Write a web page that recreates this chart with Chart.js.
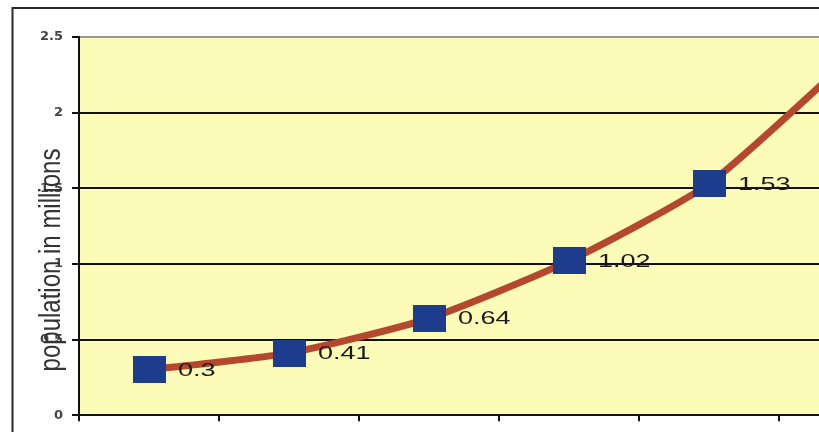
<!DOCTYPE html>
<html>
<head>
<meta charset="utf-8">
<script src="https://cdn.jsdelivr.net/npm/chart.js@4.4.1/dist/chart.umd.min.js"></script>
<style>
    html, body { margin: 0; padding: 0; background: #fff; overflow: hidden; }
    #wrap { position: absolute; left: 0; top: 0; width: 940px; height: 432px; }
</style>
</head>
<body>
<div id="wrap"><canvas id="chartPop" width="940" height="432"></canvas></div>
<script>
// data
const periods = ['1', '2', '3', '4', '5', '6'];
const population = [0.3, 0.41, 0.64, 1.02, 1.53, 2.35];
const yTicks = [0, 0.5, 1, 1.5, 2, 2.5];
const yTitle = 'population in millions';

// wide navy marker
const marker = document.createElement('canvas');
marker.width = 33; marker.height = 27;
const mctx = marker.getContext('2d');
mctx.fillStyle = '#1E3C8C';
mctx.fillRect(0, 0, 33, 27);

const framePlugin = {
    id: 'frame',
    beforeDraw(chart) {
        const { ctx, chartArea: a } = chart;
        ctx.save();
        ctx.fillStyle = '#FDFBB8';
        ctx.fillRect(a.left, a.top, a.right - a.left, a.bottom - a.top);
        ctx.strokeStyle = '#2a2a2a';
        ctx.lineWidth = 2;
        ctx.strokeRect(12.5, 8, 2000, 2000);
        ctx.restore();
    },
    afterDraw(chart) {
        const { ctx } = chart;
        const meta = chart.getDatasetMeta(0);
        ctx.save();
        // value labels
        ctx.fillStyle = '#1a1a1a';
        ctx.font = '18px "Liberation Sans", Arial, sans-serif';
        ctx.textBaseline = 'middle';
        meta.data.forEach((pt, i) => {
            ctx.save();
            ctx.translate(pt.x + 29, pt.y + 1);
            ctx.scale(1.5, 1);
            ctx.fillText(String(population[i]), 0, 0);
            ctx.restore();
        });
        // axis title, drawn over the tick labels like the original
        ctx.translate(52, 260);
        ctx.rotate(-Math.PI / 2);
        ctx.scale(1, 1.2);
        ctx.fillStyle = '#333';
        ctx.font = '24px "Liberation Sans", Arial, sans-serif';
        ctx.textAlign = 'center';
        ctx.textBaseline = 'middle';
        ctx.fillText(yTitle, 0, 0);
        ctx.restore();
    }
};

new Chart(document.getElementById('chartPop'), {
    type: 'line',
    data: {
        labels: periods,
        datasets: [{
            data: population,
            borderColor: '#B5472F', borderWidth: 7,
            tension: 0.2,
            pointStyle: marker, pointRadius: 14,
            pointBackgroundColor: '#1E3C8C', pointBorderWidth: 0
        }]
    },
    options: {
        responsive: false, animation: false,
        layout: { padding: { top: 37, right: 21, left: 0, bottom: 0 } },
        plugins: { legend: { display: false }, tooltip: { enabled: false } },
        scales: {
            x: {
                offset: true,
                ticks: { display: false },
                grid: { offset: true, drawOnChartArea: false, drawTicks: true, tickLength: 6, color: '#111', lineWidth: 2 },
                border: { color: '#111', width: 2 },
                afterFit: s => { s.height = 14; }
            },
            y: {
                min: 0, max: 2.5,
                afterBuildTicks: s => { s.ticks = yTicks.map(v => ({ value: v })); },
                ticks: {
                    padding: 9, color: '#444',
                    font: { family: '"DejaVu Sans", sans-serif', size: 13, weight: 'bold' },
                    callback: v => String(v)
                },
                grid: {
                    tickLength: 7, lineWidth: 2, tickColor: '#111',
                    color: ctx => ctx.tick && ctx.tick.value === 2.5 ? '#999' : '#111'
                },
                border: { color: '#111', width: 2 },
                afterFit: s => { s.width = 79; }
            }
        }
    },
    plugins: [framePlugin]
});
</script>
</body>
</html>
